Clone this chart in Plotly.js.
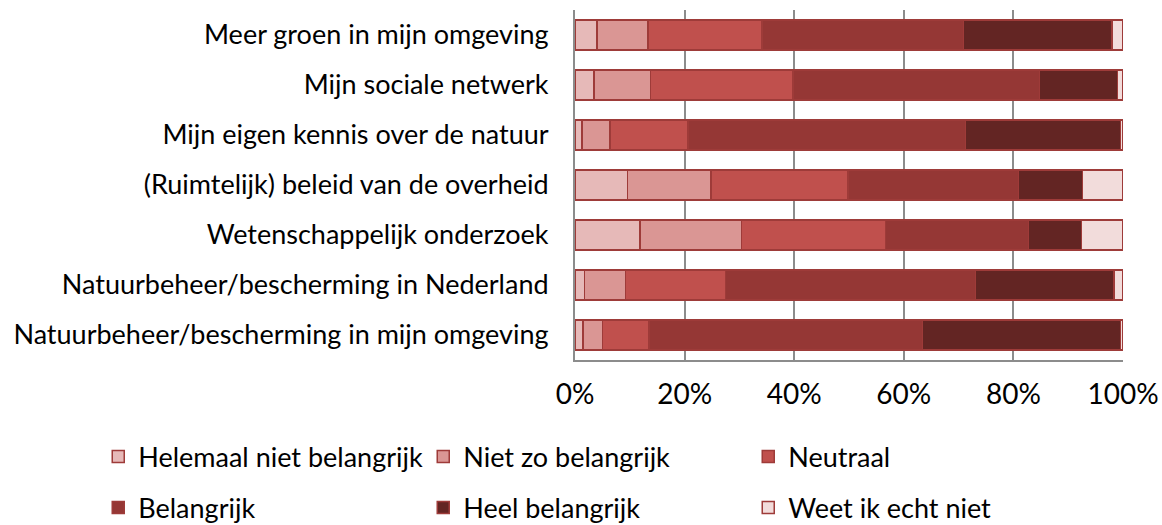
<!DOCTYPE html>
<html>
<head>
<meta charset="utf-8">
<script src="https://cdn.plot.ly/plotly-3.0.1.min.js"></script>
<style>
  html, body { margin: 0; padding: 0; background: #fff; }
  #chart { width: 1162px; height: 525px; }
</style>
</head>
<body>
<div id="chart"></div>
<script>
// categories, top to bottom as in the picture
const categories = [
  'Meer groen in mijn omgeving',
  'Mijn sociale netwerk',
  'Mijn eigen kennis over de natuur',
  '(Ruimtelijk) beleid van de overheid',
  'Wetenschappelijk onderzoek',
  'Natuurbeheer/bescherming in Nederland',
  'Natuurbeheer/bescherming in mijn omgeving'
];

const seriesNames = [
  'Helemaal niet belangrijk',
  'Niet zo belangrijk',
  'Neutraal',
  'Belangrijk',
  'Heel belangrijk',
  'Weet ik echt niet'
];

// percentages per answer, same order as categories
const helemaalNiet = [4.0, 3.5, 1.3, 9.6, 11.9, 1.7, 1.5];
const nietZo       = [9.3, 10.3, 5.1, 15.2, 18.5, 7.5, 3.5];
const neutraal     = [20.8, 26.0, 14.2, 25.0, 26.3, 18.3, 8.5];
const belangrijk   = [36.8, 45.0, 50.7, 31.1, 26.1, 45.6, 49.9];
const heel         = [27.1, 14.2, 28.2, 11.7, 9.6, 25.3, 36.1];
const weetNiet     = [2.0, 1.0, 0.5, 7.4, 7.6, 1.6, 0.5];

const seriesValues = [helemaalNiet, nietZo, neutraal, belangrijk, heel, weetNiet];
const colors = ['#e6b9b8', '#da9694', '#c0504d', '#953735', '#632523', '#f2dcdb'];

const font = 'Lato, "Open Sans", sans-serif';

const traces = seriesValues.map((vals, i) => ({
  type: 'bar',
  orientation: 'h',
  name: seriesNames[i],
  y: categories,
  x: vals.map(v => v / 100),
  marker: { color: colors[i], line: { color: '#9e3b39', width: 1.5 } },
  legend: i < 3 ? 'legend' : 'legend2',
  hoverinfo: 'x+name'
}));

const legendBase = {
  orientation: 'h',
  traceorder: 'normal',
  x: -0.87,
  xanchor: 'left',
  yanchor: 'middle',
  entrywidth: 280,
  font: { family: font, size: 27, color: '#000' },
  itemwidth: 30,
  bgcolor: 'rgba(0,0,0,0)'
};

Plotly.newPlot('chart', traces, {
  width: 1162,
  height: 525,
  barmode: 'stack',
  bargap: 0.4,
  margin: { l: 575, r: 39, t: 10, b: 165, autoexpand: false },
  paper_bgcolor: '#fff',
  plot_bgcolor: '#fff',
  font: { family: font, size: 27, color: '#000' },
  showlegend: true,
  legend: Object.assign({}, legendBase, { y: -0.277 }),
  legend2: Object.assign({}, legendBase, { y: -0.423 }),
  xaxis: {
    range: [0, 1],
    tickvals: [0, 0.2, 0.4, 0.6, 0.8, 1],
    tickformat: '.0%',
    showgrid: true,
    gridcolor: '#8c8c8c',
    gridwidth: 2,
    showline: true,
    linecolor: '#8c8c8c',
    linewidth: 2,
    zeroline: false,
    ticks: 'outside',
    ticklen: 8,
    tickcolor: 'rgba(0,0,0,0)',
    tickfont: { family: font, size: 28, color: '#000' },
    fixedrange: true
  },
  yaxis: {
    autorange: 'reversed',
    showline: true,
    linecolor: '#8c8c8c',
    linewidth: 2,
    ticks: 'outside',
    ticklen: 19,
    tickcolor: 'rgba(0,0,0,0)',
    tickfont: { family: font, size: 27, color: '#000' },
    fixedrange: true
  }
}, { displayModeBar: false, staticPlot: true });
</script>
</body>
</html>
